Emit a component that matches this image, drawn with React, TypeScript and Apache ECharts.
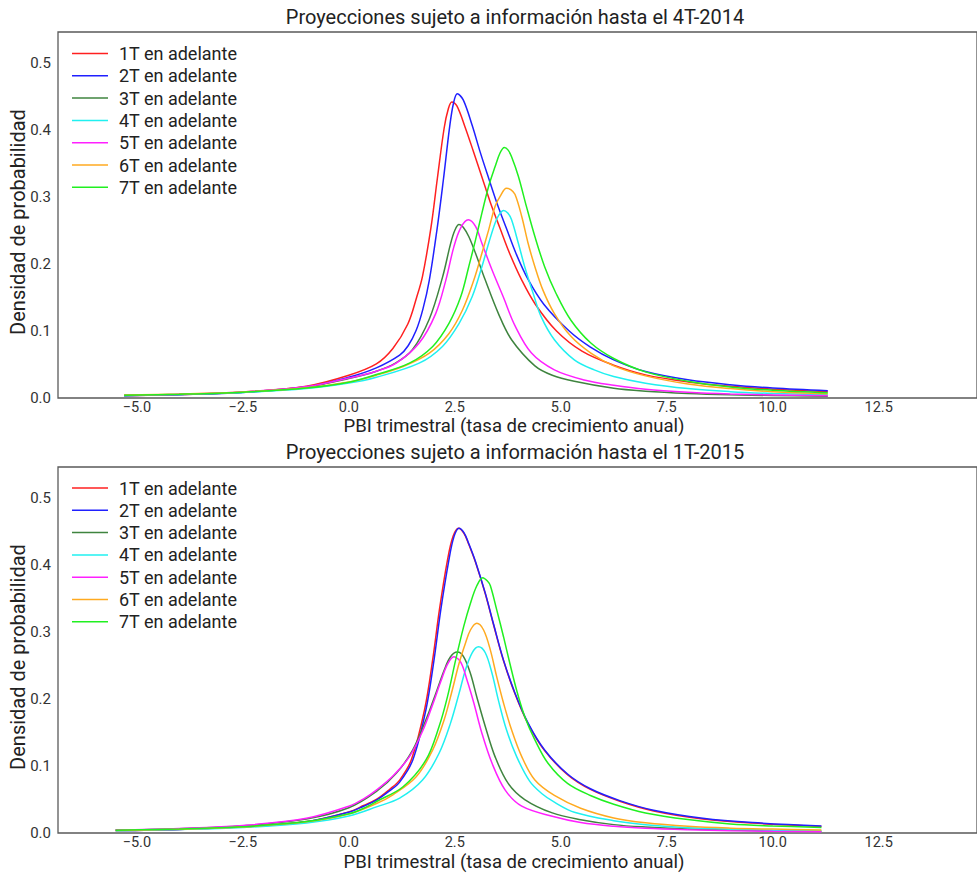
import React, { useEffect, useRef } from "react";
import * as echarts from "echarts";

// ---- Data ----
const seriesNames = [
  "1T en adelante",
  "2T en adelante",
  "3T en adelante",
  "4T en adelante",
  "5T en adelante",
  "6T en adelante",
  "7T en adelante",
];
const seriesColors = ["#ff2020", "#2020ff", "#3f843f", "#20f0f0", "#ff20ff", "#ffaa20", "#20f020"];

const xTickValues = [-5, -2.5, 0, 2.5, 5, 7.5, 10, 12.5];
const yTickValues = [0, 0.1, 0.2, 0.3, 0.4, 0.5];

const titleTop = "Proyecciones sujeto a información hasta el 4T-2014";
const titleBottom = "Proyecciones sujeto a información hasta el 1T-2015";
const xAxisTitle = "PBI trimestral (tasa de crecimiento anual)";
const yAxisTitle = "Densidad de probabilidad";

// Top panel (4T-2014)
const top1T = [[-5.3,0.0036],[-4,0.0052],[-2.5,0.0087],[-1,0.0177],[0,0.034],[0.65,0.051],[1.04,0.074],[1.39,0.110],[1.6,0.150],[1.74,0.182],[1.94,0.255],[2.09,0.328],[2.25,0.403],[2.35,0.432],[2.43,0.442],[2.55,0.436],[2.74,0.405],[2.94,0.368],[3.14,0.330],[3.35,0.290],[3.57,0.253],[3.8,0.215],[4.08,0.176],[4.4,0.140],[4.9,0.100],[5.5,0.070],[6.25,0.049],[7,0.0345],[8,0.024],[9,0.0174],[10,0.0132],[11.3,0.0097]];
const top2T = [[-5.3,0.0035],[-4,0.005],[-2.5,0.0083],[-1,0.0164],[0,0.031],[0.65,0.045],[1.2,0.064],[1.4,0.078],[1.59,0.101],[1.75,0.133],[1.9,0.176],[2.08,0.251],[2.23,0.325],[2.38,0.405],[2.47,0.440],[2.56,0.454],[2.7,0.445],[2.91,0.407],[3.1,0.367],[3.3,0.328],[3.5,0.290],[3.72,0.253],[3.95,0.215],[4.23,0.177],[4.6,0.140],[5.2,0.100],[5.7,0.076],[6.25,0.057],[7,0.0395],[8,0.0271],[9,0.0197],[10,0.0149],[11.3,0.0109]];
const top3T = [[-5.3,0.0037],[-4,0.0053],[-2.5,0.0087],[-1,0.0168],[0,0.029],[0.65,0.040],[1.1,0.052],[1.5,0.072],[1.9,0.118],[2.21,0.180],[2.40,0.230],[2.5,0.250],[2.6,0.259],[2.7,0.255],[2.83,0.241],[2.99,0.216],[3.22,0.176],[3.53,0.126],[3.84,0.087],[4.39,0.048],[4.8,0.034],[5.32,0.025],[6.25,0.0145],[7,0.0102],[8,0.0069],[9,0.0049],[10,0.0037],[11.3,0.0027]];
const top4T = [[-5.3,0.0039],[-4,0.0054],[-2.5,0.0082],[-1,0.0141],[0,0.0222],[0.65,0.031],[1.66,0.052],[2.21,0.077],[2.6,0.111],[2.91,0.151],[3.14,0.196],[3.30,0.231],[3.45,0.261],[3.55,0.274],[3.65,0.280],[3.75,0.276],[3.84,0.266],[4.0,0.231],[4.15,0.196],[4.35,0.156],[4.54,0.121],[4.85,0.087],[5.32,0.057],[5.79,0.042],[6.25,0.032],[7,0.022],[8,0.014],[9,0.0095],[10,0.0068],[11.3,0.0047]];
const top5T = [[-5.3,0.004],[-4,0.0056],[-2.5,0.0091],[-1,0.017],[0,0.0297],[0.65,0.040],[1.12,0.052],[1.66,0.082],[2.05,0.126],[2.29,0.176],[2.48,0.226],[2.64,0.254],[2.82,0.266],[2.99,0.256],[3.14,0.231],[3.38,0.191],[3.65,0.150],[3.92,0.108],[4.31,0.067],[4.85,0.042],[5.55,0.027],[6.25,0.019],[7,0.013],[8,0.0087],[9,0.0061],[10,0.0046],[11.3,0.0033]];
const top6T = [[-5.3,0.0043],[-4,0.0059],[-2.5,0.009],[-1,0.0153],[0,0.0239],[0.65,0.034],[1.28,0.047],[1.90,0.067],[2.36,0.096],[2.68,0.131],[2.95,0.176],[3.14,0.216],[3.30,0.251],[3.45,0.286],[3.57,0.301],[3.72,0.313],[3.82,0.311],[3.92,0.304],[4.08,0.271],[4.23,0.231],[4.39,0.196],[4.58,0.161],[4.85,0.126],[5.24,0.092],[5.71,0.067],[6.25,0.048],[7,0.033],[8,0.021],[9,0.014],[10,0.0095],[11.3,0.0065]];
const top7T = [[-5.3,0.0041],[-4,0.0056],[-2.5,0.0087],[-1,0.0148],[0,0.0235],[0.65,0.035],[1.43,0.052],[1.98,0.077],[2.36,0.111],[2.64,0.151],[2.83,0.196],[2.99,0.236],[3.14,0.276],[3.30,0.316],[3.45,0.345],[3.57,0.366],[3.67,0.374],[3.76,0.370],[3.84,0.360],[4.0,0.331],[4.19,0.286],[4.39,0.241],[4.62,0.196],[4.89,0.156],[5.24,0.116],[5.71,0.082],[6.25,0.059],[7,0.039],[8,0.025],[9,0.0165],[10,0.0115],[11.3,0.0078]];

// Bottom panel (1T-2015)
const bot1T = [[-5.5,0.0036],[-4,0.0053],[-2.5,0.0093],[-1,0.017],[0,0.0315],[0.35,0.041],[0.65,0.050],[0.96,0.065],[1.2,0.079],[1.48,0.110],[1.79,0.185],[1.98,0.259],[2.14,0.334],[2.33,0.408],[2.46,0.443],[2.59,0.455],[2.72,0.447],[2.83,0.431],[2.99,0.404],[3.22,0.357],[3.41,0.312],[3.65,0.257],[3.92,0.208],[4.23,0.163],[4.62,0.123],[5.16,0.087],[5.7,0.065],[6.41,0.047],[7.19,0.033],[8.35,0.021],[9.52,0.0148],[11.15,0.0098]];
const bot2T = [[-5.5,0.0036],[-4,0.0053],[-2.5,0.0092],[-1,0.0168],[0,0.031],[0.35,0.040],[0.65,0.049],[0.96,0.063],[1.2,0.076],[1.51,0.109],[1.82,0.184],[2.01,0.258],[2.17,0.333],[2.36,0.407],[2.48,0.442],[2.60,0.455],[2.72,0.448],[2.83,0.432],[2.99,0.405],[3.22,0.358],[3.41,0.313],[3.65,0.258],[3.92,0.209],[4.23,0.164],[4.62,0.124],[5.16,0.088],[5.7,0.066],[6.41,0.048],[7.19,0.034],[8.35,0.022],[9.52,0.0155],[11.15,0.0105]];
const bot3T = [[-5.5,0.0043],[-4,0.0065],[-2.5,0.0108],[-1,0.0209],[0,0.0376],[0.653,0.062],[1.12,0.089],[1.51,0.124],[1.82,0.169],[2.05,0.208],[2.25,0.243],[2.40,0.263],[2.56,0.270],[2.71,0.263],[2.87,0.238],[3.02,0.203],[3.22,0.159],[3.45,0.114],[3.76,0.074],[4.15,0.050],[4.8,0.030],[5.47,0.0199],[6.25,0.0125],[7,0.0089],[8,0.006],[9,0.0043],[10,0.0032],[11.15,0.0025]];
const bot4T = [[-5.5,0.0035],[-4,0.0051],[-2.5,0.0082],[-1,0.015],[0,0.0254],[0.653,0.039],[1.20,0.052],[1.74,0.079],[2.13,0.119],[2.40,0.164],[2.60,0.208],[2.75,0.243],[2.91,0.269],[3.06,0.278],[3.22,0.269],[3.38,0.238],[3.53,0.198],[3.72,0.154],[3.96,0.114],[4.27,0.077],[4.55,0.059],[4.85,0.046],[5.32,0.031],[6.25,0.0184],[7,0.0124],[8,0.008],[9,0.0056],[10,0.0041],[11.15,0.0031]];
const bot5T = [[-5.5,0.0045],[-4,0.0068],[-2.5,0.0112],[-1,0.022],[0,0.040],[0.35,0.051],[0.65,0.064],[1.04,0.085],[1.43,0.114],[1.74,0.152],[1.98,0.192],[2.17,0.226],[2.33,0.252],[2.48,0.263],[2.64,0.255],[2.79,0.228],[2.95,0.194],[3.14,0.149],[3.38,0.104],[3.69,0.064],[4.08,0.040],[4.8,0.0249],[5.47,0.0156],[6.25,0.010],[7,0.007],[8,0.0048],[9,0.0034],[10,0.0026],[11.15,0.002]];
const bot6T = [[-5.5,0.0038],[-4,0.0056],[-2.5,0.009],[-1,0.0166],[0,0.0282],[0.653,0.044],[1.04,0.057],[1.59,0.084],[1.98,0.124],[2.25,0.169],[2.44,0.213],[2.60,0.253],[2.75,0.283],[2.87,0.303],[3.02,0.313],[3.18,0.303],[3.34,0.273],[3.49,0.233],[3.65,0.194],[3.84,0.154],[4.08,0.114],[4.39,0.079],[4.85,0.056],[5.47,0.037],[6.25,0.0225],[7,0.0152],[8,0.0099],[9,0.0072],[10,0.0058],[11.15,0.0045]];
const bot7T = [[-5.5,0.0041],[-4,0.0059],[-2.5,0.0094],[-1,0.017],[0,0.0286],[0.35,0.037],[0.653,0.047],[1.28,0.069],[1.82,0.109],[2.13,0.159],[2.33,0.204],[2.52,0.258],[2.71,0.308],[2.87,0.343],[3.02,0.369],[3.16,0.381],[3.27,0.376],[3.34,0.369],[3.49,0.333],[3.65,0.293],[3.80,0.253],[3.96,0.213],[4.15,0.174],[4.39,0.139],[4.70,0.104],[5.16,0.074],[5.7,0.056],[6.25,0.043],[7,0.030],[8,0.020],[9,0.0135],[10,0.0105],[11.15,0.0082]];

const topData = [top1T, top2T, top3T, top4T, top5T, top6T, top7T];
const bottomData = [bot1T, bot2T, bot3T, bot4T, bot5T, bot6T, bot7T];

const FONT = "Roboto, 'DejaVu Sans', sans-serif";

export default function App() {
  const ref = useRef<HTMLDivElement>(null);

  useEffect(() => {
    if (!ref.current) return;
    const chart = echarts.init(ref.current, undefined, { renderer: "svg" });

    const xMin = -6.86;
    const xMax = 14.82;
    const yMax = 0.5463;

    const fmtX = (v: number) => (v < 0 ? "\u2212" : "") + Math.abs(v).toFixed(1);
    const fmtY = (v: number) => v.toFixed(1);

    const grids = [
      { left: 58, top: 32, width: 929, height: 366 },
      { left: 58, top: 467, width: 929, height: 366 },
    ].map((g) => ({
      ...g,
      show: true,
      borderColor: "#5a5a5a",
      borderWidth: 1.3,
      backgroundColor: "transparent",
      containLabel: false,
    }));

    const xAxes = [0, 1].map((i) => ({
      type: "value",
      gridIndex: i,
      min: xMin,
      max: xMax,
      axisLine: { show: false },
      axisTick: { show: false },
      splitLine: { show: false },
      axisLabel: {
        customValues: xTickValues,
        formatter: fmtX,
        fontSize: 14.5,
        lineHeight: 15,
        color: "#333",
        fontFamily: FONT,
        margin: 2,
      },
    }));

    const yAxes = [0, 1].map((i) => ({
      type: "value",
      gridIndex: i,
      min: 0,
      max: yMax,
      axisLine: { show: false },
      axisTick: { show: false },
      splitLine: { show: false },
      axisLabel: {
        customValues: yTickValues,
        formatter: fmtY,
        fontSize: 15,
        color: "#333",
        fontFamily: FONT,
        margin: 7,
      },
    }));

    const series: any[] = [];
    [topData, bottomData].forEach((panel, p) => {
      panel.forEach((data, i) => {
        series.push({
          type: "line",
          name: seriesNames[i],
          xAxisIndex: p,
          yAxisIndex: p,
          data,
          showSymbol: false,
          symbol: "none",
          smooth: 0.35,
          color: seriesColors[i],
          lineStyle: { width: 1.5, color: seriesColors[i] },
          z: 2 + i,
        });
      });
    });

    const legends = [38.5, 473].map((top) => ({
      orient: "vertical",
      left: 67,
      top,
      data: seriesNames,
      icon: "rect",
      itemWidth: 36,
      itemHeight: 1.5,
      itemGap: 2.3,
      selectedMode: false,
      textStyle: {
        fontSize: 18,
        color: "#222",
        fontFamily: FONT,
        lineHeight: 20,
        padding: [0, 0, 0, 6],
      },
    }));

    const textEl = (x: number, y: number, text: string, size: number, rotation = 0) => ({
      type: "text",
      x,
      y,
      rotation,
      style: {
        text,
        fontSize: size,
        lineHeight: size + 1,
        fontFamily: FONT,
        fill: "#222",
        align: "center",
        verticalAlign: "middle",
        textAlign: "center",
        textVerticalAlign: "middle",
      },
    });

    chart.setOption({
      animation: false,
      backgroundColor: "#ffffff",
      grid: grids,
      xAxis: xAxes,
      yAxis: yAxes,
      legend: legends,
      series,
      graphic: [
        textEl(515, 17, titleTop, 20),
        textEl(515, 452, titleBottom, 20),
        textEl(514, 426, xAxisTitle, 18.5),
        textEl(514, 862, xAxisTitle, 18.5),
        textEl(18, 222, yAxisTitle, 20, Math.PI / 2),
        textEl(18, 657, yAxisTitle, 20, Math.PI / 2),
      ],
    });

    return () => chart.dispose();
  }, []);

  return (
    <div
      ref={ref}
      style={{ position: "absolute", left: 0, top: 0, width: 977, height: 876, background: "#fff" }}
    />
  );
}
